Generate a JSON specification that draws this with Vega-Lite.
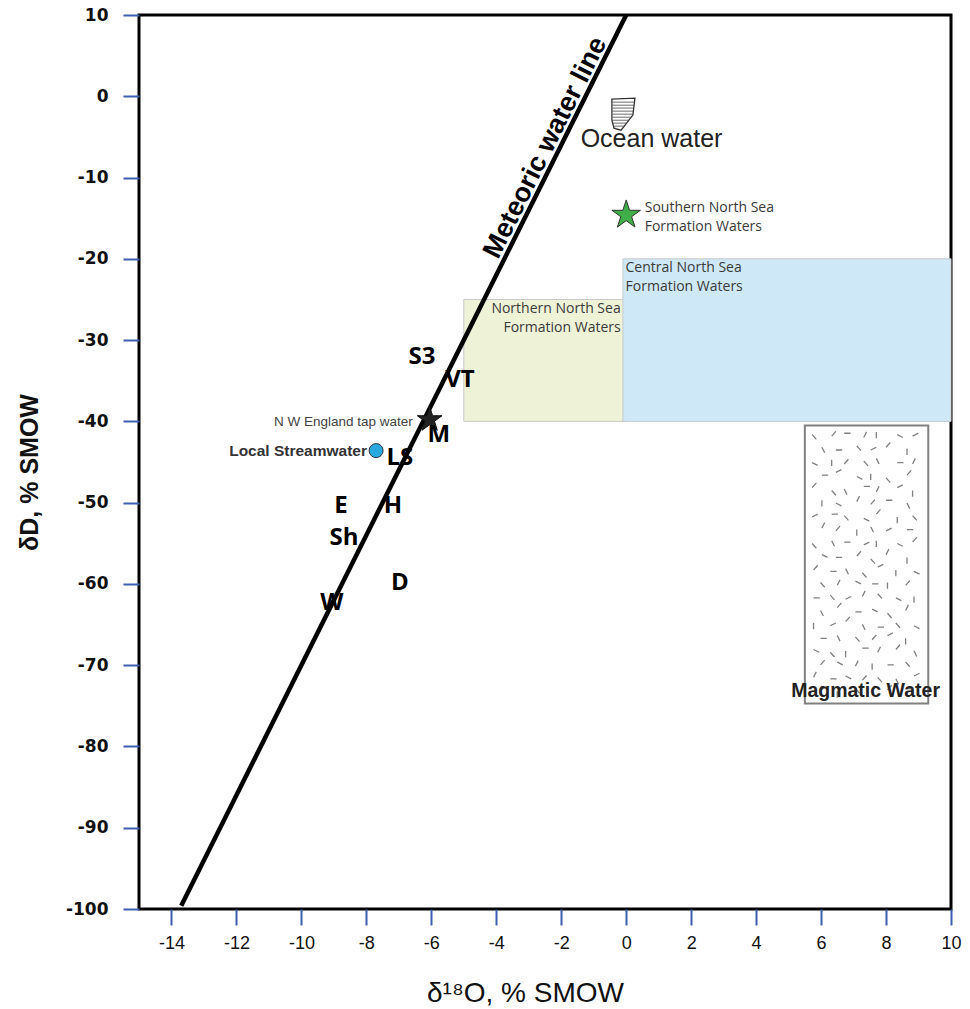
{
  "$schema": "https://vega.github.io/schema/vega-lite/v6.json",
  "width": 812,
  "height": 894,
  "autosize": "none",
  "padding": {"left": 139, "top": 15, "right": 19, "bottom": 100},
  "background": "white",
  "config": {"view": {"stroke": "black", "strokeWidth": 3}},
  "datasets": {
    "boxes": [
      {"region": "Northern North Sea Formation Waters", "x": -5, "x2": 0, "y": -25, "y2": -40},
      {"region": "Central North Sea Formation Waters", "x": -0.1, "x2": 10, "y": -20, "y2": -40}
    ],
    "magmatic": [{"region": "Magmatic Water", "x": 5.5, "x2": 9.3, "y": -40.5, "y2": -74.7}],
    "magmaticTexture": [{"x": 7.4, "y": -57.6}],
    "ocean": [{"x": -0.1, "y": -2.2}],
    "mwl": [{"x": -13.7, "y": -99.6}, {"x": 0, "y": 10}],
    "samples": [
      {"label": "S3", "x": -6.29, "y": -32.1},
      {"label": "VT", "x": -5.12, "y": -34.9},
      {"label": "M", "x": -5.77, "y": -41.7},
      {"label": "LS", "x": -6.97, "y": -44.5},
      {"label": "E", "x": -8.78, "y": -50.4},
      {"label": "H", "x": -7.18, "y": -50.4},
      {"label": "Sh", "x": -8.69, "y": -54.4},
      {"label": "D", "x": -6.97, "y": -59.9},
      {"label": "W", "x": -9.06, "y": -62.4}
    ],
    "points": [
      {"name": "NW England tap water", "x": -6.05, "y": -39.8},
      {"name": "Local Streamwater", "x": -7.7, "y": -43.6},
      {"name": "Southern North Sea Formation Waters", "x": 0, "y": -14.6}
    ],
    "labels": [
      {"group": "regionRight", "text": "Northern North Sea", "x": -0.17, "y": -26.16},
      {"group": "regionRight", "text": "Formation Waters", "x": -0.17, "y": -28.5},
      {"group": "regionLeft", "text": "Central North Sea", "x": -0.02, "y": -21.1},
      {"group": "regionLeft", "text": "Formation Waters", "x": -0.02, "y": -23.46},
      {"group": "regionLeft", "text": "Southern North Sea", "x": 0.57, "y": -13.74},
      {"group": "regionLeft", "text": "Formation Waters", "x": 0.57, "y": -16.08},
      {"group": "ocean", "text": "Ocean water", "x": 0.78, "y": -5.25},
      {"group": "magmatic", "text": "Magmatic Water", "x": 7.37, "y": -73.15},
      {"group": "tap", "text": "N W England tap water", "x": -6.57, "y": -40.06},
      {"group": "stream", "text": "Local Streamwater", "x": -7.98, "y": -43.6},
      {"group": "mwl", "text": "Meteoric water line", "x": -2.13, "y": -7.04}
    ]
  },
  "encoding": {
    "x": {
      "field": "x", "type": "quantitative",
      "scale": {"domain": [-15, 10], "nice": false, "zero": false},
      "axis": {
        "orient": "bottom",
        "values": [-14, -12, -10, -8, -6, -4, -2, 0, 2, 4, 6, 8, 10],
        "labelExpr": "'' + datum.value",
        "domain": false, "grid": false,
        "tickColor": "#3d5fae", "tickWidth": 2, "tickSize": 16,
        "labelFont": "Liberation Sans Narrow, Liberation Sans, sans-serif",
        "labelFontSize": 18, "labelColor": "#111", "labelPadding": 9,
        "labelFlush": false, "labelOverlap": false, "labelBound": false,
        "title": "δ¹⁸O, % SMOW",
        "titleFont": "Liberation Sans Narrow, Liberation Sans, sans-serif",
        "titleFontSize": 28, "titleFontWeight": "normal", "titleColor": "#111",
        "titleX": 386, "titleY": 84, "titleBaseline": "middle", "titleAlign": "center"
      }
    },
    "y": {
      "field": "y", "type": "quantitative",
      "scale": {"domain": [-100, 10], "nice": false, "zero": false},
      "axis": {
        "orient": "left",
        "values": [-100, -90, -80, -70, -60, -50, -40, -30, -20, -10, 0, 10],
        "labelExpr": "'' + datum.value",
        "domain": false, "grid": false,
        "tickColor": "#3d5fae", "tickWidth": 2, "tickSize": 16,
        "labelFont": "DejaVu Sans, Liberation Sans, sans-serif",
        "labelFontSize": 17, "labelFontWeight": "bold", "labelColor": "#111", "labelPadding": 15,
        "labelFlush": false, "labelOverlap": false, "labelBound": false,
        "title": "δD, % SMOW",
        "titleFont": "Liberation Sans, Arial, sans-serif",
        "titleFontSize": 25, "titleFontWeight": "bold", "titleColor": "#111",
        "titleX": -110, "titleY": 457, "titleAngle": -90, "titleBaseline": "middle", "titleAlign": "center"
      }
    }
  },
  "layer": [
    {
      "data": {"name": "boxes"},
      "mark": {"type": "rect", "stroke": "#c8c8c8", "strokeWidth": 1},
      "encoding": {
        "x2": {"field": "x2"}, "y2": {"field": "y2"},
        "color": {"field": "region", "type": "nominal", "legend": null,
          "scale": {"domain": ["Northern North Sea Formation Waters", "Central North Sea Formation Waters"], "range": ["#eef3d8", "#cfe8f8"]}}
      }
    },
    {
      "data": {"name": "magmatic"},
      "mark": {"type": "rect", "fill": "white", "stroke": "#808080", "strokeWidth": 2},
      "encoding": {"x2": {"field": "x2"}, "y2": {"field": "y2"}}
    },
    {
      "data": {"name": "magmaticTexture"},
      "mark": {
        "type": "point", "filled": false, "fill": null, "stroke": "#808080", "strokeWidth": 1.3, "opacity": 1, "size": 77841,
        "shape": "M -0.39 -0.93 l 0.03 0.034 M -0.25 -0.92 l 0.03 -0.034 M -0.16 -0.94 l 0.045 0 M -0.02 -0.91 l 0.02 -0.04 M 0.07 -0.95 l 0 0.045 M 0.22 -0.93 l 0.04 0.02 M 0.33 -0.92 l 0.04 -0.02 M -0.32 -0.84 l 0.02 0.04 M -0.22 -0.82 l 0.045 0 M -0.07 -0.85 l 0.03 0.034 M 0.03 -0.82 l 0.04 -0.02 M 0.14 -0.84 l 0.03 -0.034 M 0.29 -0.83 l 0 0.045 M -0.39 -0.73 l 0.04 0.02 M -0.25 -0.75 l 0 0.045 M -0.16 -0.72 l 0.03 -0.034 M -0.02 -0.74 l 0.03 0.034 M 0.07 -0.76 l 0.02 0.04 M 0.22 -0.73 l 0.045 0 M 0.33 -0.72 l 0.02 -0.04 M -0.32 -0.64 l 0.045 0 M -0.22 -0.66 l 0.04 -0.02 M -0.07 -0.63 l 0.04 0.02 M 0.03 -0.65 l 0 0.045 M 0.14 -0.62 l 0.03 0.034 M 0.29 -0.64 l 0.03 -0.034 M -0.39 -0.55 l 0.03 -0.034 M -0.25 -0.53 l 0.03 0.034 M -0.16 -0.54 l 0.02 0.04 M -0.02 -0.56 l 0.045 0 M 0.07 -0.52 l 0.02 -0.04 M 0.22 -0.55 l 0.04 -0.02 M 0.33 -0.53 l 0 0.045 M -0.32 -0.46 l 0 0.045 M -0.22 -0.44 l 0.04 0.02 M -0.07 -0.45 l 0.02 -0.04 M 0.03 -0.43 l 0.03 -0.034 M 0.14 -0.46 l 0.045 0 M 0.29 -0.44 l 0.02 0.04 M -0.39 -0.34 l 0.04 -0.02 M -0.25 -0.36 l 0.045 0 M -0.16 -0.35 l 0.03 0.034 M -0.02 -0.33 l 0.04 0.02 M 0.07 -0.36 l 0.03 -0.034 M 0.22 -0.34 l 0 0.045 M 0.33 -0.35 l 0.03 0.034 M -0.32 -0.26 l 0.02 -0.04 M -0.22 -0.24 l 0.03 -0.034 M -0.07 -0.25 l 0 0.045 M 0.03 -0.27 l 0.02 0.04 M 0.14 -0.24 l 0.04 -0.02 M 0.29 -0.25 l 0.045 0 M -0.39 -0.15 l 0.03 0.034 M -0.25 -0.17 l 0.02 0.04 M -0.16 -0.16 l 0.045 0 M -0.02 -0.14 l 0.04 -0.02 M 0.07 -0.17 l 0 0.045 M 0.22 -0.15 l 0.04 0.02 M 0.33 -0.16 l 0.03 -0.034 M -0.32 -0.07 l 0.04 0.02 M -0.22 -0.05 l 0.045 0 M -0.07 -0.06 l 0.03 -0.034 M 0.03 -0.04 l 0.03 0.034 M 0.14 -0.07 l 0.02 -0.04 M 0.29 -0.05 l 0 0.045 M -0.38 0.04 l 0.03 -0.034 M -0.26 0.05 l 0.045 0 M -0.15 0.03 l 0.02 0.04 M -0.03 0.06 l 0.03 0.034 M 0.08 0.02 l 0.04 -0.02 M 0.21 0.04 l 0 0.045 M 0.34 0.05 l 0.04 0.02 M -0.33 0.13 l 0.03 0.034 M -0.21 0.15 l 0.02 -0.04 M -0.08 0.12 l 0.04 0.02 M 0.04 0.14 l 0.045 0 M 0.15 0.13 l 0 0.045 M 0.28 0.15 l 0.03 -0.034 M -0.38 0.24 l 0.045 0 M -0.26 0.22 l 0.03 0.034 M -0.15 0.25 l 0.04 -0.02 M -0.03 0.23 l 0.02 -0.04 M 0.08 0.21 l 0.03 0.034 M 0.21 0.24 l 0.04 0.02 M 0.34 0.23 l 0 0.045 M -0.33 0.33 l 0.02 0.04 M -0.21 0.31 l 0.03 -0.034 M -0.08 0.34 l 0.045 0 M 0.04 0.32 l 0.04 0.02 M 0.15 0.35 l 0.03 0.034 M 0.28 0.33 l 0.02 -0.04 M -0.38 0.42 l 0 0.045 M -0.26 0.44 l 0.04 -0.02 M -0.15 0.41 l 0.03 -0.034 M -0.03 0.43 l 0.02 0.04 M 0.08 0.45 l 0.045 0 M 0.21 0.42 l 0.03 0.034 M 0.34 0.44 l 0.04 0.02 M -0.33 0.53 l 0.045 0 M -0.21 0.51 l 0.02 0.04 M -0.08 0.52 l 0.03 0.034 M 0.04 0.54 l 0.03 -0.034 M 0.15 0.51 l 0.04 -0.02 M 0.28 0.53 l 0 0.045 M -0.38 0.61 l 0.04 0.02 M -0.26 0.63 l 0.03 0.034 M -0.15 0.62 l 0 0.045 M -0.03 0.60 l 0.045 0 M 0.08 0.63 l 0.02 -0.04 M 0.21 0.61 l 0.03 -0.034 M 0.34 0.62 l 0.02 0.04 M -0.33 0.72 l 0.03 -0.034 M -0.21 0.70 l 0.04 0.02 M -0.08 0.73 l 0.02 -0.04 M 0.04 0.71 l 0 0.045 M 0.15 0.72 l 0.045 0 M 0.28 0.70 l 0.03 0.034 M -0.38 0.81 l 0.02 -0.04 M -0.26 0.82 l 0.045 0 M -0.15 0.80 l 0.04 0.02 M -0.03 0.83 l 0.03 -0.034 M 0.08 0.81 l 0.03 0.034 M 0.21 0.82 l 0.02 0.04 M 0.34 0.80 l 0.04 -0.02 M -0.33 0.90 l 0.04 -0.02 M -0.21 0.91 l 0 0.045 M -0.08 0.89 l 0.03 0.034 M 0.04 0.91 l 0.02 -0.04 M 0.15 0.90 l 0.03 -0.034 M 0.28 0.89 l 0.045 0"
      }
    },
    {
      "data": {"name": "ocean"},
      "mark": {"type": "point", "filled": true, "fill": "white", "stroke": "#333", "strokeWidth": 1.3, "opacity": 1, "size": 1024,
        "shape": "M -0.69 -0.94 L 0.75 -1 L 0.62 0.06 L -0.12 1 L -0.56 0.88 L -0.69 0.38 Z"}
    },
    {
      "data": {"name": "ocean"},
      "mark": {"type": "point", "filled": false, "fill": null, "stroke": "#444", "strokeWidth": 0.8, "opacity": 1, "size": 1024,
        "shape": "M -0.66 -0.75 L 0.72 -0.75 M -0.66 -0.56 L 0.70 -0.56 M -0.66 -0.38 L 0.67 -0.38 M -0.66 -0.19 L 0.65 -0.19 M -0.66 0 L 0.63 0 M -0.66 0.19 L 0.52 0.19 M -0.66 0.38 L 0.37 0.38 M -0.63 0.56 L 0.23 0.56 M -0.58 0.75 L 0.08 0.75"}
    },
    {
      "data": {"name": "mwl"},
      "mark": {"type": "line", "color": "black", "strokeWidth": 4.5, "strokeCap": "butt"},
      "encoding": {}
    },
    {
      "data": {"name": "labels"},
      "transform": [{"filter": "datum.group === 'regionRight'"}],
      "mark": {"type": "text", "align": "right", "baseline": "middle", "font": "Open Sans", "fontSize": 14, "color": "#3a3a3a"},
      "encoding": {"text": {"field": "text"}}
    },
    {
      "data": {"name": "labels"},
      "transform": [{"filter": "datum.group === 'regionLeft'"}],
      "mark": {"type": "text", "align": "left", "baseline": "middle", "font": "Open Sans", "fontSize": 14, "color": "#3a3a3a"},
      "encoding": {"text": {"field": "text"}}
    },
    {
      "data": {"name": "labels"},
      "transform": [{"filter": "datum.group === 'ocean'"}],
      "mark": {"type": "text", "align": "center", "baseline": "middle", "font": "Liberation Sans", "fontSize": 25, "color": "#222"},
      "encoding": {"text": {"field": "text"}}
    },
    {
      "data": {"name": "labels"},
      "transform": [{"filter": "datum.group === 'magmatic'"}],
      "mark": {"type": "text", "align": "center", "baseline": "middle", "font": "Liberation Sans", "fontSize": 19.5, "fontWeight": "bold", "color": "#222"},
      "encoding": {"text": {"field": "text"}}
    },
    {
      "data": {"name": "labels"},
      "transform": [{"filter": "datum.group === 'tap'"}],
      "mark": {"type": "text", "align": "right", "baseline": "middle", "font": "Liberation Sans", "fontSize": 13.5, "color": "#444"},
      "encoding": {"text": {"field": "text"}}
    },
    {
      "data": {"name": "labels"},
      "transform": [{"filter": "datum.group === 'stream'"}],
      "mark": {"type": "text", "align": "right", "baseline": "middle", "font": "Liberation Sans", "fontSize": 15.5, "fontWeight": "bold", "color": "#333"},
      "encoding": {"text": {"field": "text"}}
    },
    {
      "data": {"name": "labels"},
      "transform": [{"filter": "datum.group === 'mwl'"}],
      "mark": {"type": "text", "align": "center", "baseline": "alphabetic", "dy": -5, "angle": -63.4, "font": "Liberation Sans", "fontSize": 27, "fontWeight": "bold", "color": "black"},
      "encoding": {"text": {"field": "text"}}
    },
    {
      "data": {"name": "points"},
      "transform": [{"filter": "datum.name === 'Local Streamwater'"}],
      "mark": {"type": "point", "shape": "circle", "filled": true, "fill": "#2aa9e0", "stroke": "#333", "strokeWidth": 1, "opacity": 1, "size": 196}
    },
    {
      "data": {"name": "points"},
      "transform": [{"filter": "datum.name === 'NW England tap water'"}],
      "mark": {"type": "point", "filled": true, "fill": "#222", "stroke": "#111", "strokeWidth": 1, "opacity": 1, "size": 676,
        "shape": "M 0 -1 L 0.225 -0.309 L 0.951 -0.309 L 0.363 0.118 L 0.588 0.809 L 0 0.382 L -0.588 0.809 L -0.363 0.118 L -0.951 -0.309 L -0.225 -0.309 Z"}
    },
    {
      "data": {"name": "points"},
      "transform": [{"filter": "datum.name === 'Southern North Sea Formation Waters'"}],
      "mark": {"type": "point", "filled": true, "fill": "#3fae49", "stroke": "#333", "strokeWidth": 1, "opacity": 1, "size": 900,
        "shape": "M 0 -1 L 0.225 -0.309 L 0.951 -0.309 L 0.363 0.118 L 0.588 0.809 L 0 0.382 L -0.588 0.809 L -0.363 0.118 L -0.951 -0.309 L -0.225 -0.309 Z"}
    },
    {
      "data": {"name": "samples"},
      "mark": {"type": "text", "align": "center", "baseline": "middle", "font": "Open Sans", "fontWeight": 700, "fontSize": 24, "color": "black"},
      "encoding": {"text": {"field": "label"}}
    }
  ]
}
